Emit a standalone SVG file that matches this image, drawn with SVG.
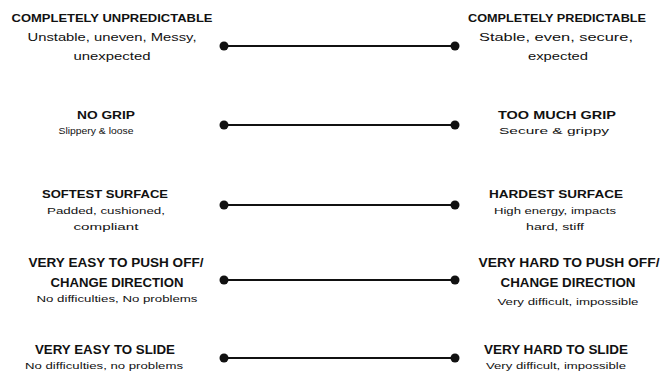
<svg xmlns="http://www.w3.org/2000/svg" width="662" height="374" viewBox="0 0 662 374">
<style>
text{font-family:"Liberation Sans","Open Sans",sans-serif;fill:#111;text-anchor:middle}
.t{font-weight:bold;font-size:11px}
.t2{font-weight:bold;font-size:12.5px}
.s{font-size:11px}
.s2{font-size:9px}
.c{stroke:#111;stroke-width:2;fill:none}
.d{fill:#111}
</style>
<rect width="662" height="374" fill="#fff"/>
<g id="connectors">
<line class="c" x1="224" y1="46" x2="455" y2="46"/>
<line class="c" x1="224" y1="125" x2="455" y2="125"/>
<line class="c" x1="224" y1="205" x2="455" y2="205"/>
<line class="c" x1="224" y1="280" x2="455" y2="280"/>
<line class="c" x1="224" y1="358" x2="455" y2="358"/>
<circle class="d" cx="224" cy="46" r="4.5"/><circle class="d" cx="455" cy="46" r="4.5"/>
<circle class="d" cx="224" cy="125" r="4.5"/><circle class="d" cx="455" cy="125" r="4.5"/>
<circle class="d" cx="224" cy="205" r="4.5"/><circle class="d" cx="455" cy="205" r="4.5"/>
<circle class="d" cx="224" cy="280" r="4.5"/><circle class="d" cx="455" cy="280" r="4.5"/>
<circle class="d" cx="224" cy="358" r="4.5"/><circle class="d" cx="455" cy="358" r="4.5"/>
</g>
<g id="left1">
<text class="t" x="112" y="22" textLength="201" lengthAdjust="spacingAndGlyphs">COMPLETELY UNPREDICTABLE</text>
<text class="s" x="112" y="41" textLength="169" lengthAdjust="spacingAndGlyphs">Unstable, uneven, Messy,</text>
<text class="s" x="112" y="60" textLength="77" lengthAdjust="spacingAndGlyphs">unexpected</text>
</g>
<g id="right1">
<text class="t" x="557" y="22" textLength="178" lengthAdjust="spacingAndGlyphs">COMPLETELY PREDICTABLE</text>
<text class="s" x="556" y="41" textLength="154" lengthAdjust="spacingAndGlyphs">Stable, even, secure,</text>
<text class="s" x="558" y="60" textLength="60" lengthAdjust="spacingAndGlyphs">expected</text>
</g>
<g id="left2">
<text class="t" x="106" y="119" textLength="58" lengthAdjust="spacingAndGlyphs">NO GRIP</text>
<text class="s2" x="96" y="134" textLength="75" lengthAdjust="spacingAndGlyphs">Slippery &amp; loose</text>
</g>
<g id="right2">
<text class="t" x="557" y="119" textLength="118" lengthAdjust="spacingAndGlyphs">TOO MUCH GRIP</text>
<text class="s2" x="554" y="134" textLength="110" lengthAdjust="spacingAndGlyphs">Secure &amp; grippy</text>
</g>
<g id="left3">
<text class="t" x="105" y="198" textLength="126" lengthAdjust="spacingAndGlyphs">SOFTEST SURFACE</text>
<text class="s2" x="106" y="214" textLength="118" lengthAdjust="spacingAndGlyphs">Padded, cushioned,</text>
<text class="s2" x="106" y="230" textLength="65" lengthAdjust="spacingAndGlyphs">compliant</text>
</g>
<g id="right3">
<text class="t" x="556" y="198" textLength="134" lengthAdjust="spacingAndGlyphs">HARDEST SURFACE</text>
<text class="s2" x="555" y="214" textLength="122" lengthAdjust="spacingAndGlyphs">High energy, impacts</text>
<text class="s2" x="555" y="230" textLength="58" lengthAdjust="spacingAndGlyphs">hard, stiff</text>
</g>
<g id="left4">
<text class="t2" x="116" y="267" textLength="175" lengthAdjust="spacingAndGlyphs">VERY EASY TO PUSH OFF/</text>
<text class="t2" x="117" y="287" textLength="133" lengthAdjust="spacingAndGlyphs">CHANGE DIRECTION</text>
<text class="s2" x="117" y="302" textLength="161" lengthAdjust="spacingAndGlyphs">No difficulties, No problems</text>
</g>
<g id="right4">
<text class="t2" x="569" y="267" textLength="181" lengthAdjust="spacingAndGlyphs">VERY HARD TO PUSH OFF/</text>
<text class="t2" x="568" y="287" textLength="135" lengthAdjust="spacingAndGlyphs">CHANGE DIRECTION</text>
<text class="s2" x="568" y="305" textLength="141" lengthAdjust="spacingAndGlyphs">Very difficult, impossible</text>
</g>
<g id="left5">
<text class="t2" x="105" y="354" textLength="140" lengthAdjust="spacingAndGlyphs">VERY EASY TO SLIDE</text>
<text class="s2" x="104" y="369" textLength="158" lengthAdjust="spacingAndGlyphs">No difficulties, no problems</text>
</g>
<g id="right5">
<text class="t2" x="556" y="354" textLength="144" lengthAdjust="spacingAndGlyphs">VERY HARD TO SLIDE</text>
<text class="s2" x="556" y="369" textLength="140" lengthAdjust="spacingAndGlyphs">Very difficult, impossible</text>
</g>
</svg>
